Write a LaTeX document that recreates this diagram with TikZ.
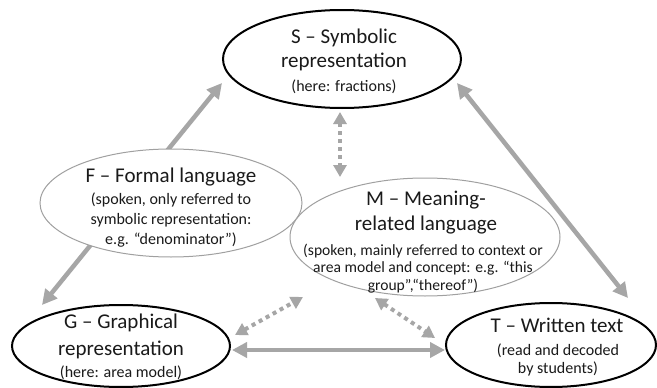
\documentclass[tikz,border=0pt]{standalone}
\usepackage{fontspec}
\setmainfont{Carlito}
\usetikzlibrary{shapes.geometric,arrows.meta}
\definecolor{arrgray}{HTML}{A6A6A6}
\definecolor{lightedge}{HTML}{A0A0A0}
\definecolor{txt}{HTML}{1A1A1A}
\pgfdeclarelayer{bg}
\pgfsetlayers{bg,main}
\tikzset{
 mainell/.style={ellipse, draw=black, line width=2pt, fill=white, inner sep=0pt},
 langell/.style={ellipse, draw=lightedge, line width=1pt, fill=white, inner sep=0pt},
 ttl/.style={anchor=base, inner sep=0pt, text=txt, font=\fontsize{21}{24}\selectfont},
 sub/.style={anchor=base, inner sep=0pt, text=txt, font=\fontsize{16}{19}\selectfont},
 subm/.style={anchor=base, inner sep=0pt, text=txt, font=\fontsize{15.6}{18}\selectfont},
 solidarr/.style={draw=arrgray, line width=4.5pt, {Triangle[length=15pt,width=15pt]}-{Triangle[length=15pt,width=15pt]}},
 dotarr/.style={draw=arrgray, line width=4pt, dash pattern=on 4pt off 4pt, {Triangle[length=12pt,width=13pt]}-{Triangle[length=12pt,width=13pt]}},
}
\begin{document}
\begin{tikzpicture}[x=1pt,y=-1pt]
\useasboundingbox (0,0) rectangle (657,388);
% ellipses
\node[mainell, minimum width=238pt, minimum height=98pt] (S) at (342,59) {};
\node[mainell, minimum width=218pt, minimum height=82pt] (G) at (121,346) {};
\node[mainell, minimum width=210pt, minimum height=84pt] (T) at (551,345) {};
\node[langell, minimum width=262pt, minimum height=108pt] (F) at (171,203) {};
\node[langell, minimum width=270pt, minimum height=118pt] (M) at (425,237) {};
% texts
\node[ttl] (S1) at (344,43) {S – Symbolic};
\node[ttl] (S2) at (344,67) {representation};
\node[sub] (S3) at (344,91) {(here: fractions)};
\node[ttl] (F1) at (171,182) {F – Formal language};
\node[sub] (F2) at (171,204) {(spoken, only referred to};
\node[sub] (F3) at (171,224) {symbolic representation:};
\node[sub] (F4) at (171,244) {e.g. “denominator”)};
\node[ttl] (M1) at (426,205) {M – Meaning-};
\node[ttl] (M2) at (426,230) {related language};
\node[subm] (M3) at (423,255) {(spoken, mainly referred to context or};
\node[subm] (M4) at (423,272.5) {area model and concept: e.g. “this};
\node[subm] (M5) at (423,290) {group”,“thereof”)};
\node[ttl] (G1) at (121,328) {G – Graphical};
\node[ttl] (G2) at (121,355) {representation};
\node[sub] (G3) at (121,377) {(here: area model)};
\node[ttl] (T1) at (557,332) {T – Written text};
\node[sub] (T2) at (558,355) {(read and decoded};
\node[sub] (T3) at (558,373) {by students)};
% connectors
\begin{pgfonlayer}{bg}
\fill[white] (0,0) rectangle (657,388);
\draw[solidarr] ([shift={(-79,-41)}]G.center) -- ([shift={(-120,24)}]S.center);
\draw[solidarr] ([shift={(115,24)}]S.center) -- ([shift={(77,-47)}]T.center);
\draw[solidarr] ([shift={(111,4)}]G.center) -- ([shift={(-106,5)}]T.center);
\draw[dotarr] ([shift={(-2,53)}]S.center) -- ([shift={(-85,-60)}]M.center);
\draw[dotarr] ([shift={(114,-11)}]G.center) -- ([shift={(-122,60)}]M.center);
\draw[dotarr] ([shift={(-50,61)}]M.center) -- ([shift={(-116,-7)}]T.center);
\end{pgfonlayer}
\end{tikzpicture}
\end{document}
